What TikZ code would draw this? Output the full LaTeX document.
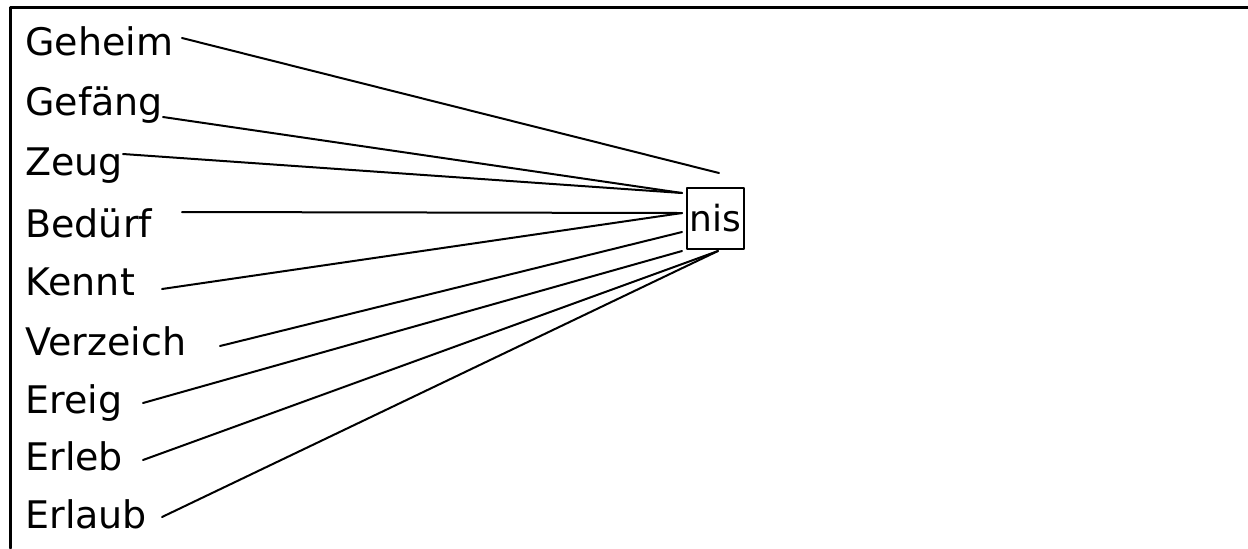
\documentclass[tikz,border=0pt]{standalone}
\usepackage{fontspec}
\setmainfont{DejaVu Sans}
\begin{document}
\begin{tikzpicture}[x=0.5pt, y=-0.5pt, line join=round, line cap=round, font=\fontsize{19}{22}\selectfont]
\useasboundingbox (0,0) rectangle (1248,548);
\draw[line width=1.5pt] (10.5,548)--(10.5,7.5)--(1248,7.5);
\node[draw, line width=1pt, inner sep=0pt, minimum width=28.5pt, minimum height=30.5pt, font=\fontsize{18}{20}\selectfont] (nis) at (715.5,218.5) {nis};
\foreach \w/\y [count=\i] in {Geheim/55, Gefäng/115, Zeug/175, Bedürf/237, Kennt/295, Verzeich/355, Ereig/413, Erleb/470, Erlaub/528}
  \node[anchor=base west, inner sep=0pt] (w\i) at (25,\y) {\w};
% line ends
\coordinate (s1) at (182,38); \coordinate (s2) at (163,117); \coordinate (s3) at (123,154);
\coordinate (s4) at (182,212); \coordinate (s5) at (162,289); \coordinate (s6) at (220,346);
\coordinate (s7) at (143,403); \coordinate (s8) at (143,460); \coordinate (s9) at (162,517);
\coordinate (e1) at (719,173); \coordinate (e2) at (682,193); \coordinate (e3) at (682,213);
\coordinate (e4) at (682,232); \coordinate (e5) at (682,251); \coordinate (e6) at (718,251);
\foreach \a/\b in {s1/e1, s2/e2, s3/e2, s4/e3, s5/e3, s6/e4, s7/e5, s8/e6, s9/e6}
  \draw[line width=1pt] (\a)--(\b);
\end{tikzpicture}
\end{document}
